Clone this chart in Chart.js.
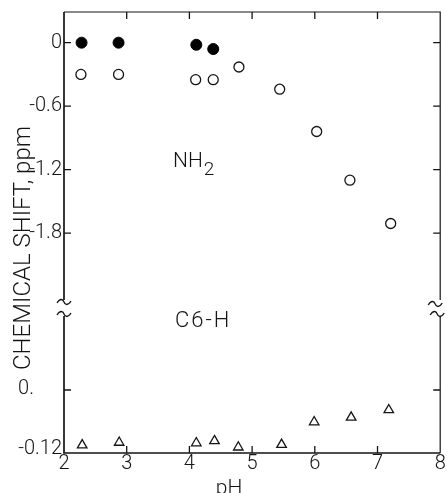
<!DOCTYPE html>
<html>
<head>
<meta charset="utf-8">
<script src="https://cdn.jsdelivr.net/npm/chart.js@4"></script>
<style>
  html, body { margin: 0; padding: 0; background: #fff; }
  #wrap { width: 447px; height: 493px; }
</style>
</head>
<body>
<div id="wrap"><canvas id="c" width="447" height="493"></canvas></div>
<script>
// ---- data ----
const pHFilled   = [2.28, 2.87, 4.11, 4.38];
const nh2Filled  = [0, 0, -0.02, -0.06];
const pHOpen     = [2.27, 2.87, 4.10, 4.38, 4.79, 5.44, 6.03, 6.56, 7.21];
const nh2Open    = [-0.30, -0.30, -0.35, -0.35, -0.23, -0.44, -0.84, -1.30, -1.71];
const pHTri      = [2.29, 2.88, 4.11, 4.40, 4.78, 5.47, 5.99, 6.58, 7.18];
const c6hShift   = [-0.105, -0.100, -0.101, -0.097, -0.109, -0.104, -0.061, -0.052, -0.038];
const xTicks     = [2, 3, 4, 5, 6, 7, 8];
const xTickLabels = ['2', '3', '4', '5', '6', '7', '8'];
const nh2Ticks   = [0, -0.6, -1.2, -1.8];
const nh2TickLabels = ['0', '-0.6', '-1.2', '-1.8'];
const c6hTicks   = [0, -0.12];
const c6hTickLabels = ['0.', '-0.12'];
const yTitle = 'CHEMICAL SHIFT, ppm';
const xTitle = 'pH';
const label1 = 'NH';
const label1Sub = '2';
const label2 = 'C6-H';

const FONT = "Roboto, 'Liberation Sans', sans-serif";
const INK = '#141414';

function pts(xs, ys) { return xs.map((x, i) => ({ x: x, y: ys[i] })); }

const framePlugin = {
  id: 'frame',
  afterDraw(chart) {
    const ctx = chart.ctx;
    const a = chart.chartArea;
    const xs = chart.scales.x, ys = chart.scales.y, y2 = chart.scales.y2;
    const brkTop = 300, brkBot = 316;
    ctx.save();
    ctx.strokeStyle = INK;
    ctx.fillStyle = INK;
    ctx.lineCap = 'butt';
    // frame
    ctx.lineWidth = 1.7;
    ctx.beginPath();
    ctx.moveTo(a.left, a.top); ctx.lineTo(a.left, brkTop);
    ctx.moveTo(a.left, brkBot); ctx.lineTo(a.left, a.bottom);
    ctx.lineTo(a.right, a.bottom);
    ctx.stroke();
    ctx.lineWidth = 1.2;
    ctx.beginPath();
    ctx.moveTo(a.left, a.top); ctx.lineTo(a.right, a.top);
    ctx.lineTo(a.right, brkTop);
    ctx.moveTo(a.right, brkBot); ctx.lineTo(a.right, a.bottom);
    ctx.stroke();
    // ticks
    const tl = 7;
    ctx.lineWidth = 1.3;
    ctx.beginPath();
    xTicks.forEach(v => {
      const px = xs.getPixelForValue(v);
      if (v === xTicks[0] || v === xTicks[xTicks.length - 1]) return;
      ctx.moveTo(px, a.bottom); ctx.lineTo(px, a.bottom - tl);
      ctx.moveTo(px, a.top); ctx.lineTo(px, a.top + tl);
    });
    nh2Ticks.forEach(v => {
      const py = ys.getPixelForValue(v);
      ctx.moveTo(a.left, py); ctx.lineTo(a.left + tl, py);
      ctx.moveTo(a.right, py); ctx.lineTo(a.right - tl, py);
    });
    c6hTicks.forEach(v => {
      const py = y2.getPixelForValue(v);
      if (Math.abs(py - a.bottom) < 1) return;
      ctx.moveTo(a.left, py); ctx.lineTo(a.left + tl, py);
      ctx.moveTo(a.right, py); ctx.lineTo(a.right - tl, py);
    });
    ctx.stroke();
    // axis-break marks
    function tilde(cx, cy) {
      ctx.beginPath();
      ctx.moveTo(cx - 7, cy + 1);
      ctx.bezierCurveTo(cx - 4, cy - 4, cx - 1, cy - 3, cx, cy);
      ctx.bezierCurveTo(cx + 1, cy + 3, cx + 4, cy + 4, cx + 7, cy - 1);
      ctx.stroke();
    }
    ctx.lineWidth = 1.3;
    tilde(a.left, brkTop + 2); tilde(a.left, brkBot - 2);
    tilde(a.right - 5, brkTop + 4); tilde(a.right - 3, brkBot - 2);
    // lower-panel tick labels
    ctx.font = '300 20px ' + FONT;
    ctx.textAlign = 'right';
    ctx.textBaseline = 'middle';
    c6hTicks.forEach((v, i) => {
      const py = y2.getPixelForValue(v);
      const xr = i === 0 ? 34 : 62;
      ctx.fillText(c6hTickLabels[i], xr, py + (i === 0 ? -1 : -4));
    });
    // y title
    ctx.save();
    ctx.translate(30, 248);
    ctx.rotate(-Math.PI / 2);
    ctx.font = '300 24px ' + FONT;
    ctx.textAlign = 'center';
    ctx.textBaseline = 'alphabetic';
    ctx.fillText(yTitle, 0, 0);
    ctx.restore();
    // x title
    ctx.font = '300 21px ' + FONT;
    ctx.textAlign = 'center';
    ctx.textBaseline = 'alphabetic';
    ctx.fillText(xTitle, 229, 494);
    // in-plot labels
    ctx.textAlign = 'left';
    ctx.font = '300 21px ' + FONT;
    ctx.fillText(label1, 173, 167);
    const w = ctx.measureText(label1).width;
    ctx.font = '300 19px ' + FONT;
    ctx.fillText(label1Sub, 173 + w + 1, 175);
    ctx.font = '300 22px ' + FONT;
    ctx.letterSpacing = '2px';
    ctx.fillText(label2, 175, 327);
    ctx.restore();
  }
};

new Chart(document.getElementById('c'), {
  type: 'scatter',
  data: {
    datasets: [
      {
        label: 'NH2 (filled)',
        data: pts(pHFilled, nh2Filled),
        yAxisID: 'y',
        pointStyle: 'circle',
        radius: 5.5,
        backgroundColor: '#000',
        borderColor: '#000',
        borderWidth: 1
      },
      {
        label: 'NH2 (open)',
        data: pts(pHOpen, nh2Open),
        yAxisID: 'y',
        pointStyle: 'circle',
        radius: 5,
        backgroundColor: 'rgba(255,255,255,0)',
        borderColor: INK,
        borderWidth: 1.3
      },
      {
        label: 'C6-H',
        data: pts(pHTri, c6hShift),
        yAxisID: 'y2',
        pointStyle: 'triangle',
        radius: 5.5,
        backgroundColor: 'rgba(255,255,255,0)',
        borderColor: INK,
        borderWidth: 1.3
      }
    ]
  },
  options: {
    responsive: false,
    devicePixelRatio: 1,
    animation: false,
    clip: false,
    layout: { padding: { top: 12, right: 3, left: 0, bottom: 0 } },
    plugins: { legend: { display: false }, tooltip: { enabled: false } },
    scales: {
      x: {
        type: 'linear',
        min: 2, max: 8,
        afterBuildTicks: s => { s.ticks = xTicks.map(v => ({ value: v })); },
        afterFit: s => { s.height = 40; },
        grid: { display: false, drawTicks: false },
        border: { display: false },
        ticks: {
          padding: 1,
          color: INK,
          font: { family: FONT, size: 20, weight: '300', lineHeight: 1 },
          callback: (v, i) => xTickLabels[i]
        }
      },
      y: {
        type: 'linear',
        position: 'left',
        min: -3.88, max: 0.29,
        afterBuildTicks: s => { s.ticks = nh2Ticks.map(v => ({ value: v })); },
        afterFit: s => { s.width = 64; },
        grid: { display: false, drawTicks: false },
        border: { display: false },
        ticks: {
          padding: 2,
          color: INK,
          font: { family: FONT, size: 20, weight: '300', lineHeight: 1 },
          callback: (v, i) => nh2TickLabels[i]
        }
      },
      y2: {
        type: 'linear',
        position: 'right',
        display: false,
        min: -0.12, max: 0.72
      }
    }
  },
  plugins: [framePlugin]
});
</script>
</body>
</html>
